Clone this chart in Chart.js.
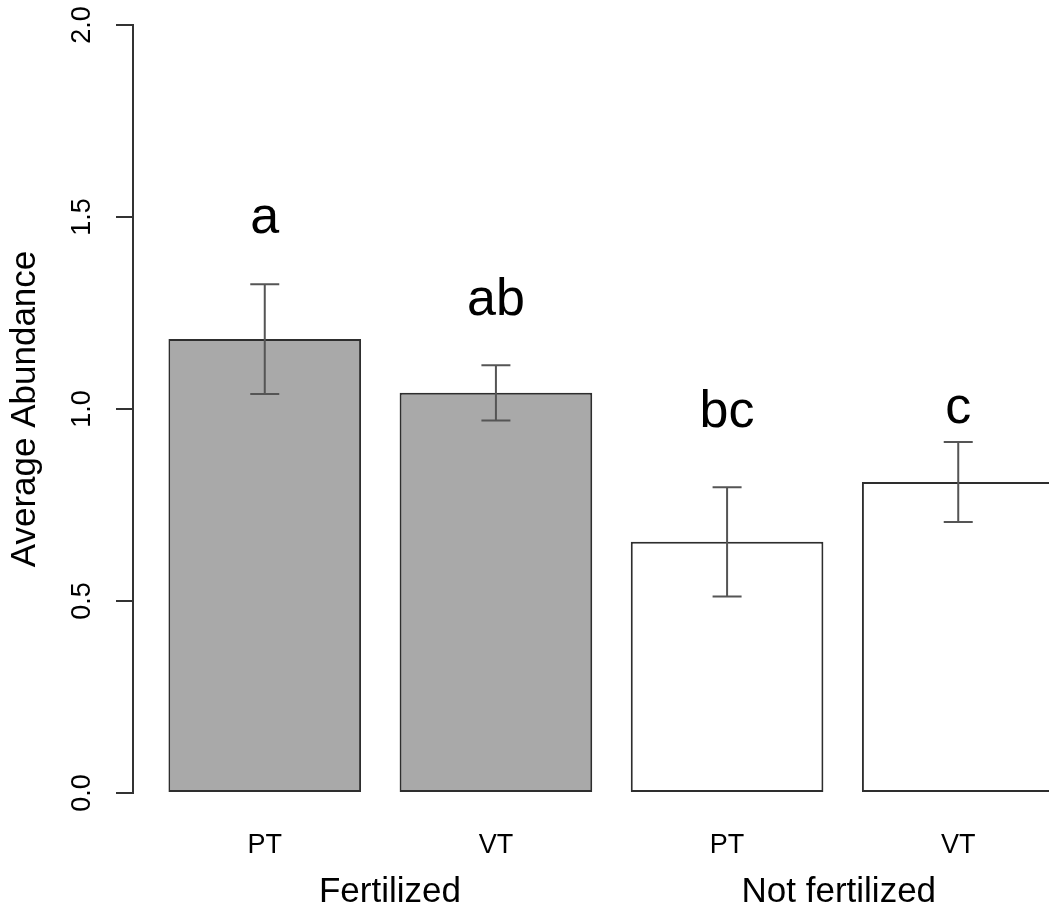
<!DOCTYPE html>
<html>
<head>
<meta charset="utf-8">
<title>Average Abundance</title>
<script src="https://cdn.jsdelivr.net/npm/chart.js@4.4.1/dist/chart.umd.min.js"></script>
<style>
  html, body { margin: 0; padding: 0; background: #fff; overflow: hidden; }
  canvas { display: block; }
</style>
</head>
<body>
<canvas id="chart" width="1090" height="911"></canvas>
<script>
// Treatment groups and their label centres on the x axis
const groups = ['Fertilized', 'Not fertilized'];
const groupCenters = [1.35, 3.68];

// One bar per treatment, placed at barplot midpoints
const treatments = ['PT', 'VT', 'PT', 'VT'];
const barGroup = [0, 0, 1, 1];
const barMids = [0.7, 1.9, 3.1, 4.3];

// Means and standard errors
const means = [1.182, 1.042, 0.654, 0.810];
const stdErr = [0.143, 0.072, 0.142, 0.104];

// Significance letters and the height they sit at
const letters = ['a', 'ab', 'bc', 'c'];
const letterY = [1.458, 1.245, 0.953, 0.964];

// Y axis ticks
const yTicks = [0, 0.5, 1.0, 1.5, 2.0];

const FONT = '"Liberation Sans", Arial, Helvetica, sans-serif';
const groupFill = ['#a9a9a9', '#ffffff'];

const annotate = {
  id: 'annotate',
  afterDatasetsDraw(chart) {
    const ctx = chart.ctx;
    const y = chart.scales.y;
    const bars = chart.getDatasetMeta(0).data;
    ctx.save();
    // error bars (mean +/- SE)
    ctx.strokeStyle = '#555555';
    ctx.lineWidth = 2;
    const cap = 14.5;
    bars.forEach((bar, i) => {
      const top = y.getPixelForValue(means[i] + stdErr[i]);
      const bot = y.getPixelForValue(means[i] - stdErr[i]);
      ctx.beginPath();
      ctx.moveTo(bar.x, top); ctx.lineTo(bar.x, bot);
      ctx.moveTo(bar.x - cap, top); ctx.lineTo(bar.x + cap, top);
      ctx.moveTo(bar.x - cap, bot); ctx.lineTo(bar.x + cap, bot);
      ctx.stroke();
    });
    // significance letters
    ctx.fillStyle = '#000';
    ctx.font = '52px ' + FONT;
    ctx.textAlign = 'center';
    ctx.textBaseline = 'alphabetic';
    bars.forEach((bar, i) => {
      ctx.fillText(letters[i], bar.x, y.getPixelForValue(letterY[i]));
    });
    ctx.restore();
  },
  afterDraw(chart) {
    const ctx = chart.ctx;
    const x = chart.scales.x;
    const y = chart.scales.y;
    ctx.save();
    ctx.fillStyle = '#000';
    // rotated y tick labels
    ctx.font = '27px ' + FONT;
    ctx.textAlign = 'center';
    ctx.textBaseline = 'middle';
    y.ticks.forEach(t => {
      ctx.save();
      ctx.translate(83, y.getPixelForValue(t.value));
      ctx.rotate(-Math.PI / 2);
      ctx.fillText(t.label, 0, 0);
      ctx.restore();
    });
    // group labels under the treatment labels
    ctx.font = '35px ' + FONT;
    ctx.textBaseline = 'alphabetic';
    groups.forEach((g, i) => {
      ctx.fillText(g, x.getPixelForValue(groupCenters[i]), 902);
    });
    ctx.restore();
  }
};

new Chart(document.getElementById('chart'), {
  type: 'bar',
  data: {
    datasets: [{
      data: barMids.map((m, i) => ({ x: m, y: means[i] })),
      backgroundColor: barGroup.map(g => groupFill[g]),
      borderColor: '#2e2e2e',
      borderWidth: 2,
      borderSkipped: false,
      categoryPercentage: 1,
      barPercentage: 1 / 1.2
    }]
  },
  options: {
    responsive: false,
    animation: false,
    devicePixelRatio: 1,
    layout: { padding: { top: 25, right: 0, bottom: 0, left: 0 } },
    plugins: {
      legend: { display: false },
      tooltip: { enabled: false },
      title: { display: false }
    },
    scales: {
      x: {
        type: 'linear',
        offset: false,
        min: 0.016,
        max: 4.984,
        grid: { display: false, offset: false },
        border: { display: false },
        afterBuildTicks: s => { s.ticks = barMids.map(v => ({ value: v })); },
        afterFit: s => { s.height = 118; },
        ticks: {
          autoSkip: false,
          maxRotation: 0,
          padding: 28,
          color: '#000',
          font: { family: FONT, size: 27 },
          callback: (v, i) => treatments[i]
        }
      },
      y: {
        min: 0,
        max: 2,
        afterBuildTicks: s => { s.ticks = yTicks.map(v => ({ value: v })); },
        afterFit: s => { s.width = 133; },
        grid: {
          drawOnChartArea: false,
          drawTicks: true,
          tickLength: 17,
          color: '#333333',
          lineWidth: 2
        },
        border: { display: true, color: '#333333', width: 2 },
        ticks: {
          display: false,
          callback: v => Number(v).toFixed(1)
        },
        title: {
          display: true,
          text: 'Average Abundance',
          color: '#000',
          font: { family: FONT, size: 35 },
          padding: { top: 4, bottom: 0 }
        }
      }
    }
  },
  plugins: [annotate]
});
</script>
</body>
</html>
